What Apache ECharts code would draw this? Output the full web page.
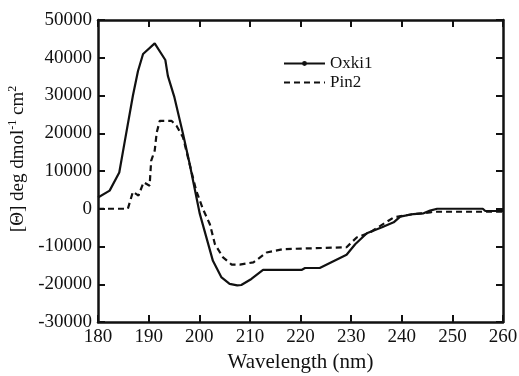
<!DOCTYPE html>
<html>
<head>
<meta charset="utf-8">
<script src="https://cdn.jsdelivr.net/npm/echarts@6/dist/echarts.min.js"></script>
<style>
  html, body { margin: 0; padding: 0; background: #fff; }
  #chart { width: 519px; height: 376px; }
</style>
</head>
<body>
<div id="chart"></div>
<script>
// wavelength (nm), ellipticity values
const oxki1Wl = [180, 182.3, 184.2, 185.2, 186.9, 187.9, 188.9, 191.2, 193.3, 193.8, 195.1, 196.8, 198.1, 200.1,
  202.7, 204.4, 206.0, 207.5, 208.3, 210.3, 212.6, 220.2, 220.9, 223.8, 229.1, 230.8, 233.1, 236.1, 238.4,
  239.7, 242.3, 244.3, 245.6, 247, 256, 256.5, 260]
const oxki1Val = [3000, 4800, 9600, 17200, 30000, 36500, 41000, 43800, 39400, 35200, 29500, 19800, 11900, -1300,
  -13800, -18200, -19900, -20300, -20200, -18600, -16200, -16200, -15700, -15700, -12200, -9400, -6500, -4900, -3600,
  -2100, -1400, -1200, -500, 0, 0, -600, -600]

const pin2Wl = [180, 185.9, 186.9, 188.0, 189.0, 190.2, 190.5, 191.2, 191.6, 192.2, 194.5, 195.5, 196.8, 198.1, 199.4,
  200.7, 202.1, 203.1, 204.7, 206.4, 208.0, 210.7, 213.3, 216.6, 229.1, 231.1, 233.7, 238.4, 242.3, 245.6, 246.2, 260]
const pin2Val = [0, 0, 4500, 3500, 7000, 6100, 12700, 15400, 20200, 23300, 23300, 22000, 18900, 11800, 4800,
  0, -4100, -9400, -12900, -14800, -14800, -14200, -11600, -10700, -10200, -7600, -6300, -2300, -1400, -1000, -800, -800]

const xTicks = [180, 190, 200, 210, 220, 230, 240, 250, 260]
const yTicks = [-30000, -20000, -10000, 0, 10000, 20000, 30000, 40000, 50000]

const font = 'Liberation Serif'
const chart = echarts.init(document.getElementById('chart'))

const zip = (xs, ys) => xs.map((x, i) => [x, ys[i]])

const frameLine = { show: true, onZero: false, lineStyle: { color: '#111', width: 2.5 } }
const inTicks = { show: true, inside: true, length: 7, lineStyle: { color: '#111', width: 2 } }
const plain = v => String(v)

const option = {
  animation: false,
  grid: { left: 98, right: 16, top: 20, bottom: 54, containLabel: false, outerBoundsMode: 'none' },
  legend: {
    orient: 'vertical',
    left: 278,
    top: 50,
    itemWidth: 41,
    itemHeight: 6,
    itemGap: 2,
    textStyle: { fontFamily: font, fontSize: 17, color: '#111' },
    data: ['Oxki1', { name: 'Pin2', itemStyle: { color: 'rgba(0,0,0,0)' } }]
  },
  xAxis: [{
    type: 'value',
    min: xTicks[0],
    max: xTicks[xTicks.length - 1],
    interval: 10,
    name: 'Wavelength (nm)',
    nameLocation: 'middle',
    nameGap: 29,
    nameTextStyle: { fontFamily: font, fontSize: 21, color: '#111' },
    axisLine: frameLine,
    axisTick: inTicks,
    axisLabel: { fontFamily: font, fontSize: 19, color: '#111', margin: 6, formatter: plain },
    splitLine: { show: false }
  }, {
    type: 'value',
    position: 'top',
    min: xTicks[0],
    max: xTicks[xTicks.length - 1],
    interval: 10,
    axisLine: frameLine,
    axisTick: inTicks,
    axisLabel: { show: false },
    splitLine: { show: false }
  }],
  yAxis: [{
    type: 'value',
    min: yTicks[0],
    max: yTicks[yTicks.length - 1],
    interval: 10000,
    name: '[Θ] deg dmol{sup|-1} cm{sup|2}',
    nameLocation: 'middle',
    nameGap: 62,
    nameTextStyle: {
      fontFamily: font, fontSize: 19, color: '#111',
      padding: [0, 0, 0, 24],
      rich: {
        sup: { fontFamily: font, fontSize: 12, color: '#111', verticalAlign: 'top', padding: [0, 0, 10, 0] }
      }
    },
    axisLine: frameLine,
    axisTick: inTicks,
    axisLabel: { fontFamily: font, fontSize: 19, color: '#111', margin: 6, formatter: plain },
    splitLine: { show: false }
  }, {
    type: 'value',
    position: 'right',
    min: yTicks[0],
    max: yTicks[yTicks.length - 1],
    interval: 10000,
    axisLine: frameLine,
    axisTick: inTicks,
    axisLabel: { show: false },
    splitLine: { show: false }
  }],
  series: [{
    name: 'Oxki1',
    type: 'line',
    data: zip(oxki1Wl, oxki1Val),
    symbol: 'circle',
    symbolSize: 5,
    showSymbol: false,
    itemStyle: { color: '#111' },
    lineStyle: { color: '#111', width: 2.2 }
  }, {
    name: 'Pin2',
    type: 'line',
    data: zip(pin2Wl, pin2Val),
    symbol: 'none',
    itemStyle: { color: '#111' },
    lineStyle: { color: '#111', width: 2.2, type: [6, 4] }
  }]
}

chart.setOption(option)
</script>
</body>
</html>
